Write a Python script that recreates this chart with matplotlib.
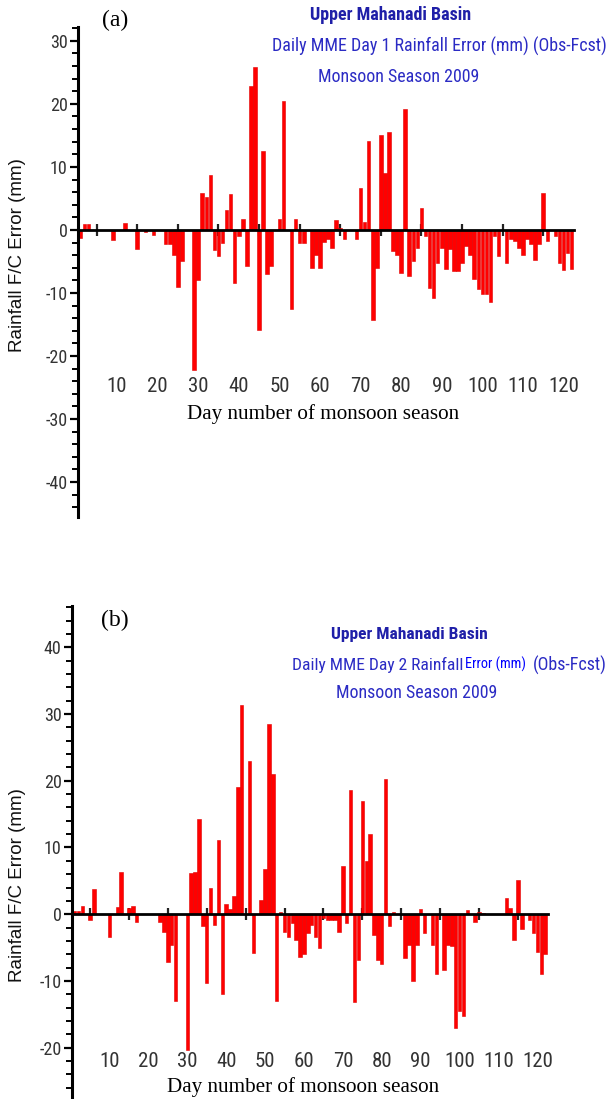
import matplotlib
matplotlib.use("Agg")
import matplotlib.pyplot as plt
from matplotlib.ticker import MultipleLocator, FixedLocator, NullFormatter
import numpy as np

plt.rcParams['axes.unicode_minus'] = False

# ---------------- data ----------------
days = list(range(1, 123))

err_day1 = [
    -1.3, 0.9, 0.9, 0, 0, 0, 0, 0, -1.6, 0,
    0, 1.1, 0, 0, -3.1, 0, -0.4, 0, -0.8, 0,
    0, -2.2, -2.2, -4.0, -9.0, -4.9, 0, 0, -22.3, -8.0,
    5.8, 5.2, 8.7, -3.2, -4.1, -2.0, 3.1, 5.7, -8.4, -1.0,
    1.8, -5.8, 22.9, 25.8, -15.8, 12.6, -7.0, -5.8, 0, 1.8,
    20.5, 0, -12.6, 1.8, -2.0, -2.0, 0, -6.1, -4.0, -6.1,
    -1.9, -1.5, -2.8, 1.5, 0.3, -1.5, 0, 0, -1.5, 6.6,
    1.2, 14.1, -14.3, -6.0, 15.1, 9.0, 15.6, -3.4, -3.9, -6.9,
    19.2, -7.3, -4.9, -2.9, 3.5, -1.0, -9.2, -10.8, -5.2, -2.8,
    -6.2, -3.1, -6.5, -6.5, -5.2, -2.5, -3.9, -7.8, -9.4, -10.2,
    -10.2, -11.5, -1.0, -4.1, 0, -5.2, -1.5, -1.7, -2.8, -3.9,
    -1.5, -2.3, -4.8, -2.3, 5.8, -1.7, 0, -1.0, -5.2, -6.4,
    -3.6, -6.2,
]

err_day2 = [
    0.5, 0.5, 1.3, 0, -0.8, 3.8, 0, 0, 0, -3.4,
    0, 1.1, 6.3, 0, 1.0, 1.3, -1.1, 0, 0, 0,
    0, 0, -1.1, -2.6, -7.2, -4.6, -13.0, 0, 0, -20.3,
    6.2, 6.3, 14.3, -1.8, -10.3, 4.0, -1.6, 11.1, -12.0, 1.5,
    0.8, 2.8, 19.0, 31.3, 0, 23.0, -5.8, 0, 2.2, 6.8,
    28.5, 21.0, -13.0, 0.3, -2.6, -3.4, -1.3, -3.8, -6.4, -6.0,
    -2.8, -1.6, -3.4, -5.1, -0.5, -0.8, -0.8, -0.8, -2.6, 7.3,
    -1.3, 18.6, -13.2, -6.8, 17.0, 8.0, 12.0, -3.1, -6.8, -7.5,
    20.2, -1.7, 0.4, 0, 0, -6.6, -4.6, -10.0, -4.6, 0.8,
    -2.8, 0, -4.6, -8.9, 0, -8.4, -4.6, -4.8, -17.0, -14.5,
    -15.3, 0.6, 0, -1.1, 0.3, 0.2, 0, 0, 0, 0,
    0, 2.4, 1.0, -3.8, 5.2, -2.2, 0, -0.9, -2.8, -5.7,
    -9.0, -5.9,
]

xtick_labels = [10, 20, 30, 40, 50, 60, 70, 80, 90, 100, 110, 120]
xtick_marks = [5, 15, 25, 35, 45, 55, 65, 75, 85, 95, 105, 115]

title1 = "Upper Mahanadi Basin"
title2a = "Daily MME Day 1 Rainfall Error (mm) (Obs-Fcst)"
title3 = "Monsoon Season 2009"
ylabel = "Rainfall F/C Error (mm)"
xlabel = "Day number of monsoon season"

# ---------------- figure ----------------
W, H = 611, 1099
fig = plt.figure(figsize=(W / 100, H / 100), dpi=100)

NARROW = ['Roboto Condensed', 'Liberation Sans Narrow', 'Open Sans Condensed',
          'DejaVu Sans Condensed', 'Liberation Sans']
STRETCH = 'condensed'
SANS = ['Liberation Sans', 'DejaVu Sans']
SERIF = ['Liberation Serif', 'DejaVu Serif']
BLUE_DARK = '#1f1fa8'
BLUE = '#2b2bc4'


def fx(px):
    return px / W


def fy(py):
    return 1 - py / H


def setup_axes(ax, values, ylim, xlim, ytick_range, lab_y):
    ax.bar(days, values, width=0.88, color='#ff0000', edgecolor='#e00000',
           linewidth=0.4, zorder=2)
    ax.set_xlim(*xlim)
    ax.set_ylim(*ylim)
    for s in ['top', 'right']:
        ax.spines[s].set_visible(False)
    ax.spines['bottom'].set_position(('data', 0))
    ax.spines['bottom'].set_linewidth(2.0)
    ax.spines['bottom'].set_zorder(3)
    ax.spines['left'].set_linewidth(2.2)
    ax.xaxis.set_major_locator(FixedLocator(xtick_marks))
    ax.xaxis.set_major_formatter(NullFormatter())
    ax.tick_params(axis='x', direction='inout', length=9, width=1.6,
                   color='#222222')
    ax.yaxis.set_major_locator(FixedLocator(ytick_range))
    ax.yaxis.set_minor_locator(MultipleLocator(2))
    ax.tick_params(axis='y', which='major', direction='out', length=6,
                   width=1.6, labelsize=13, labelcolor='#333333', pad=1.5)
    ax.tick_params(axis='y', which='minor', direction='out', length=4,
                   width=1.4)
    for lbl in ax.get_yticklabels():
        lbl.set_family(NARROW)
        lbl.set_stretch(STRETCH)
    ax.set_facecolor('none')
    for d in xtick_labels:
        ax.text(d, lab_y, str(d), ha='center', va='center', fontsize=15,
                family=NARROW, stretch=STRETCH, color='#333333')


# Panel (a)
ax1 = fig.add_axes([fx(78), fy(516.7), fx(573.7 - 78), (516.7 - 27) / H])
setup_axes(ax1, err_day1, (-45.5, 32.2), (0.4, 122.5),
           [-40, -30, -20, -10, 0, 10, 20, 30], -24.9)

# Panel (b)
ax2 = fig.add_axes([fx(72), 0.0, fx(547.5 - 72), (1099 - 606) / H])
setup_axes(ax2, err_day2, (-27.7, 46.2), (0.37, 122.6),
           [-20, -10, 0, 10, 20, 30, 40], -22.1)

# y labels
fig.text(fx(18), fy(255), ylabel, rotation=90, ha='center', va='center',
         fontsize=13.5, family=SANS, color='#111111')
fig.text(fx(18), fy(885), ylabel, rotation=90, ha='center', va='center',
         fontsize=13.5, family=SANS, color='#111111')

# x labels
fig.text(fx(323), fy(414), xlabel, ha='center', va='center', fontsize=15.2,
         family=SERIF, color='black')
fig.text(fx(303), fy(1087), xlabel, ha='center', va='center', fontsize=15.2,
         family=SERIF, color='black')

# panel letters
fig.text(fx(115), fy(20), "(a)", ha='center', va='center', fontsize=17,
         family=SERIF)
fig.text(fx(115), fy(620), "(b)", ha='center', va='center', fontsize=17,
         family=SERIF)

# titles panel (a)
fig.text(fx(391), fy(15), title1, ha='center', va='center', fontsize=13,
         weight='bold', family=NARROW, stretch=STRETCH, color=BLUE_DARK)
fig.text(fx(607), fy(46), title2a, ha='right', va='center', fontsize=13,
         family=NARROW, stretch=STRETCH, color=BLUE)
fig.text(fx(399), fy(77), title3, ha='center', va='center', fontsize=12.9,
         family=NARROW, stretch=STRETCH, color=BLUE)

# titles panel (b)
fig.text(fx(409), fy(635), title1, ha='center', va='center', fontsize=12.6,
         weight='bold', family=NARROW, stretch=STRETCH, color=BLUE_DARK)
fig.text(fx(463), fy(665), "Daily MME Day 2 Rainfall", ha='right',
         va='center', fontsize=12.6, family=NARROW, stretch=STRETCH,
         color=BLUE)
fig.text(fx(465), fy(664), "Error (mm)", ha='left', va='center',
         fontsize=10.3, family=NARROW, stretch=STRETCH, color='#0000ff')
fig.text(fx(607), fy(665), "(Obs-Fcst)", ha='right', va='center',
         fontsize=13, family=NARROW, stretch=STRETCH, color=BLUE)
fig.text(fx(417), fy(693), title3, ha='center', va='center', fontsize=12.9,
         family=NARROW, stretch=STRETCH, color=BLUE)

fig.savefig("out.png", dpi=100)
